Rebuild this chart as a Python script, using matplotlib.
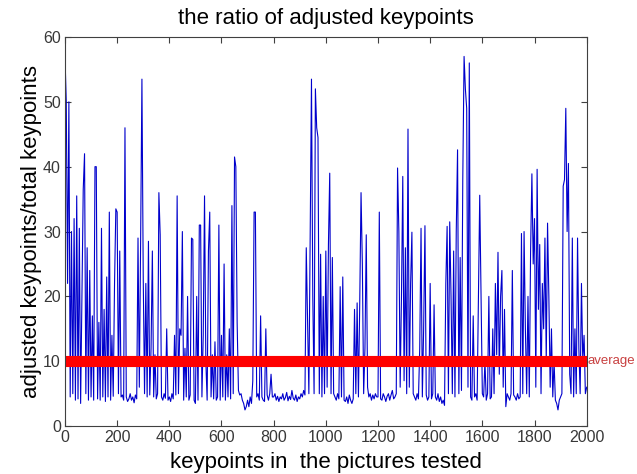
import matplotlib.pyplot as plt
import numpy as np

plt.rcParams["font.family"] = ["Liberation Sans", "DejaVu Sans"]

# ratio of adjusted keypoints, one sample every 5 keypoints
step = 5
ratio = [
    57, 50, 22, 50, 4.5, 30, 5, 32, 4, 35.5, 4.2, 30.5, 3.5, 20, 36.5, 42, 5, 27.5, 4, 24,
    4.5, 17, 4, 40, 40, 4.2, 16, 4, 30.5, 4.5, 18, 3.8, 23, 4.5, 33, 4, 14, 4.6, 22, 33.5,
    33, 5, 27, 4.5, 4.8, 4, 46, 4.5, 3.8, 4.2, 5, 4, 4.5, 3.6, 4.8, 4.2, 29, 6, 28.5, 53.5,
    23, 5, 22, 4.5, 28.5, 4.8, 12, 27, 4.5, 11, 4.2, 5, 36, 29.5, 4.5, 4, 5, 4.3, 15, 4,
    4.5, 3.8, 5, 4.2, 14, 4.8, 35.5, 5, 15, 14, 30, 4, 12, 4.5, 20, 4, 4.8, 29, 28.8, 4,
    3.5, 20, 4, 31, 31, 4.5, 14, 35.5, 10, 4, 27, 33, 4.5, 11, 4.2, 13, 4, 4.5, 31, 4,
    14, 4.5, 25, 4, 11, 4.5, 15, 4.2, 34, 5, 41.5, 40, 16, 5.5, 4.8, 5, 4, 3.5, 2.5, 3,
    4, 3, 4.5, 3.5, 7, 33, 33, 4.5, 5, 4, 17, 4.5, 4, 3.8, 15, 4.8, 4, 5, 8, 4.5,
    4.5, 5, 4, 4.6, 3.8, 4.5, 4.2, 5, 4, 4.4, 5.2, 3.9, 4.6, 4.1, 5.5, 4.3, 4, 4.8, 3.8, 4.5,
    4.2, 5, 4.5, 5.5, 4.8, 27.5, 16, 5, 30, 53.5, 20, 5, 52, 46, 44.5, 5, 26.5, 4.5, 20, 5,
    27, 6, 28, 39, 5, 26, 5, 4.5, 4, 5, 4.2, 21.5, 4.5, 23, 4, 3.8, 4.5, 3.5, 4.8, 4,
    3.5, 4.2, 18, 5, 19, 4.5, 19, 36, 25, 5, 12, 29.5, 6, 4.5, 5, 4, 4.8, 4.2, 5, 4.5,
    4.5, 33, 4.2, 4, 5, 4.5, 3.8, 4.6, 5, 4, 4.8, 5.5, 4.2, 4.5, 5, 39.8, 30, 6, 20, 38.5,
    7, 27.5, 5, 45.8, 6, 22, 29.9, 5, 4.5, 4, 5, 4.2, 12, 30.5, 4.5, 15, 30.9, 4.8, 4, 4.5,
    22, 4.2, 5, 18.7, 4.5, 4, 5, 3.8, 4.5, 3.5, 4, 3.2, 22, 30.8, 5, 31.5, 20, 5, 27, 4.5,
    30, 42.6, 5, 26, 5.5, 38, 57, 52, 49, 6, 56, 4.5, 4, 17, 4.5, 5, 4, 20, 35.6, 20,
    5, 4.5, 10, 4, 5, 20, 4.2, 4.5, 15, 5, 22, 11, 26.8, 8, 20, 24, 6, 18, 3, 5,
    4.5, 4, 5, 24, 4.8, 4.5, 4, 5, 4.2, 4.5, 29.7, 5, 30, 15, 5, 20, 4.5, 27, 38.9, 25,
    32, 6, 39.6, 18, 28, 5, 22, 15, 29, 10, 31.3, 20, 6, 15, 4.5, 10, 4, 3.5, 2.5, 4,
    4.5, 5, 37, 38, 49, 30, 40.5, 8, 5, 29, 4.5, 15, 5, 29, 12, 5, 22, 10, 14, 5,
    6,
]
average = 10

xticks = [0, 200, 400, 600, 800, 1000, 1200, 1400, 1600, 1800, 2000]
yticks = [0, 10, 20, 30, 40, 50, 60]

keypoints = np.arange(len(ratio)) * step

fig = plt.figure(figsize=(6.37, 4.74), dpi=100)
ax = fig.add_axes([0.102, 0.101, 0.819, 0.821])

ax.plot(keypoints, ratio, color="#0000cc", linewidth=0.8)
ax.plot([0, 2000], [average, average], color="#ff0000", linewidth=8, solid_capstyle="butt")
ax.text(2004, average, "average", color="#c84040", fontsize=9.5, va="center", ha="left")

ax.set_xlim(0, 2000)
ax.set_ylim(0, 60)
ax.set_xticks(xticks)
ax.set_yticks(yticks)
ax.tick_params(direction="in", top=True, right=True, length=4, labelsize=11.5,
               labelcolor="#383838", color="#404040", pad=3)
for s in ax.spines.values():
    s.set_color("#404040")

ax.set_title("the ratio of adjusted keypoints", fontsize=16, pad=9)
ax.set_xlabel("keypoints in  the pictures tested", fontsize=16, labelpad=5)
ax.set_ylabel("adjusted keypoints/total keypoints", fontsize=16, labelpad=1)

fig.savefig("out.png", dpi=100)
